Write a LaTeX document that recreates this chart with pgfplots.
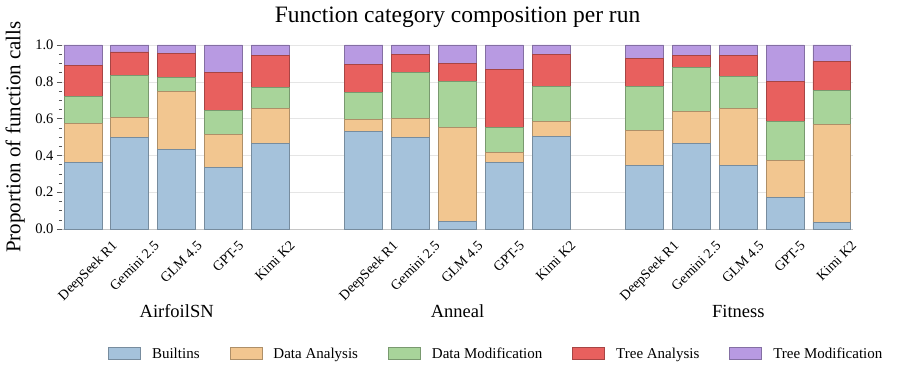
\documentclass[border=0pt]{standalone}
\usepackage{fontspec}
\setmainfont{Liberation Serif}
\usepackage{pgfplots}
\pgfplotsset{compat=1.18}
\usepackage{pgfplotstable}
\definecolor{cB}{HTML}{A5C2DB}
\definecolor{cDA}{HTML}{F2C690}
\definecolor{cDM}{HTML}{A8D49A}
\definecolor{cTA}{HTML}{E8605E}
\definecolor{cTM}{HTML}{B89AE2}

% tick label: centre the rotated box on the tick, top edge fixed
\newlength\rlw
\newcommand{\rl}[1]{\settowidth{\rlw}{#1}\addtolength{\rlw}{-0.7em}%
  \rule{0pt}{\dimexpr0.25\rlw+0.7em\relax}#1\hspace*{-0.25\rlw}}

\pgfplotstableread{
x  b     da    dm    ta    tm
0  0.363 0.209 0.147 0.172 0.109
1  0.499 0.107 0.229 0.127 0.038
2  0.434 0.314 0.078 0.130 0.044
3  0.336 0.179 0.131 0.207 0.147
4  0.463 0.190 0.117 0.174 0.056
6  0.528 0.069 0.147 0.151 0.105
7  0.495 0.106 0.250 0.098 0.051
8  0.042 0.508 0.250 0.098 0.102
9  0.359 0.058 0.133 0.316 0.134
10 0.505 0.081 0.187 0.174 0.053
12 0.347 0.190 0.240 0.149 0.074
13 0.465 0.172 0.243 0.062 0.058
14 0.343 0.312 0.174 0.115 0.056
15 0.169 0.205 0.212 0.218 0.196
16 0.036 0.534 0.185 0.156 0.089
}\runs

\begin{document}
\begin{tikzpicture}
\useasboundingbox (0,0) rectangle (897pt,377pt);
\begin{axis}[at={(62pt,148pt)},anchor=south west,scale only axis,width=791pt,height=184pt,
  ybar stacked,bar width=0.81,clip=false,
  xmin=-0.45,xmax=16.45,ymin=0,ymax=1,
  xtick={0,1,2,3,4,6,7,8,9,10,12,13,14,15,16},
  xticklabels={\rl{DeepSeek R1},\rl{Gemini 2.5},\rl{GLM 4.5},\rl{GPT-5},\rl{Kimi K2},
    \rl{DeepSeek R1},\rl{Gemini 2.5},\rl{GLM 4.5},\rl{GPT-5},\rl{Kimi K2},
    \rl{DeepSeek R1},\rl{Gemini 2.5},\rl{GLM 4.5},\rl{GPT-5},\rl{Kimi K2}},
  x tick label style={font=\fontsize{14}{14}\selectfont,rotate=45,anchor=north east,inner sep=1pt,yshift=-6pt},
  ytick={0,0.2,0.4,0.6,0.8,1},minor y tick num=3,
  y tick label style={font=\fontsize{14.5}{14.5}\selectfont,/pgf/number format/assume math mode=true,
    /pgf/number format/fixed,/pgf/number format/fixed zerofill,/pgf/number format/precision=1},
  axis x line*=bottom,axis y line*=left,
  x axis line style={gray!45},y axis line style={draw=none},
  x tick style={draw=none},y tick style={black!65},
  tick align=outside,major tick length=5pt,minor tick length=3pt,
  ymajorgrids,grid style={black!10},
  title={Function category composition per run},
  title style={font=\fontsize{23.5}{23.5}\selectfont,at={(0.5,1)},anchor=base,yshift=16pt},
  ylabel={Proportion of function calls},
  ylabel style={font=\fontsize{21}{21}\selectfont,at={(axis description cs:-0.059,0.5)},anchor=center},
  legend image code/.code={\draw[#1,line width=0.9pt] (0pt,-6pt) rectangle (32pt,6pt);},
  legend columns=5,
  legend style={draw=none,fill=none,font=\fontsize{15}{15}\selectfont,
    at={(0.549,-0.679)},anchor=center,
    /tikz/every odd column/.append style={column sep=9pt},
    /tikz/every even column/.append style={column sep=28pt}},
]
\addplot[fill=cB,draw=cB!72!black,line width=0.9pt] table[x=x,y=b]{\runs};
\addplot[fill=cDA,draw=cDA!72!black,line width=0.9pt] table[x=x,y=da]{\runs};
\addplot[fill=cDM,draw=cDM!72!black,line width=0.9pt] table[x=x,y=dm]{\runs};
\addplot[fill=cTA,draw=cTA!72!black,line width=0.9pt] table[x=x,y=ta]{\runs};
\addplot[fill=cTM,draw=cTM!72!black,line width=0.9pt] table[x=x,y=tm]{\runs};
\legend{Builtins,Data Analysis,Data Modification,Tree Analysis,Tree Modification}
\node[font=\fontsize{18.5}{18.5}\selectfont,yshift=-82pt] at (axis cs:2,0) {AirfoilSN};
\node[font=\fontsize{18.5}{18.5}\selectfont,yshift=-82pt] at (axis cs:8,0) {Anneal};
\node[font=\fontsize{18.5}{18.5}\selectfont,yshift=-82pt] at (axis cs:14,0) {Fitness};
\end{axis}
\end{tikzpicture}
\end{document}
